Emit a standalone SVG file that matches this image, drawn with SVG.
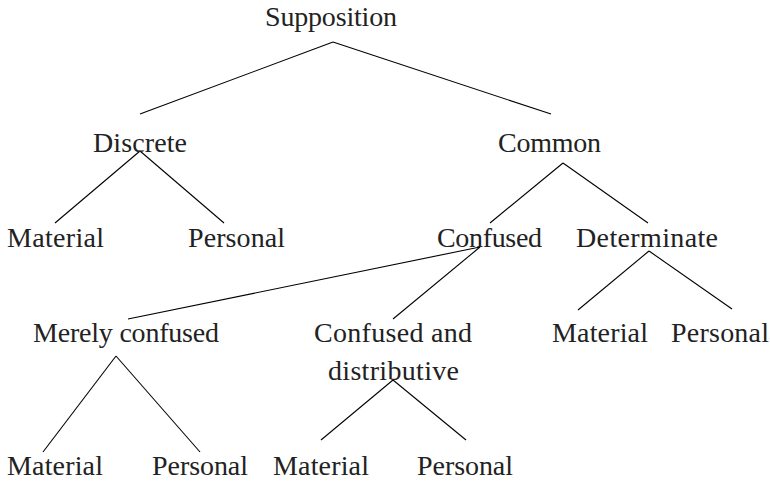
<svg xmlns="http://www.w3.org/2000/svg" width="770" height="482" viewBox="0 0 770 482">
<style>
text { font-family: "Liberation Serif", "Times New Roman", serif; font-size: 28px; fill: #222; }
.e line { stroke: #000; stroke-width: 1.1; }
</style>
<rect width="770" height="482" fill="#fff"/>
<g class="e" id="connectors">
<line x1="333" y1="42" x2="140" y2="114"/>
<line x1="333" y1="42" x2="551" y2="114"/>
<line x1="140" y1="151" x2="55" y2="223"/>
<line x1="140" y1="151" x2="224" y2="223"/>
<line x1="563" y1="163" x2="490" y2="223"/>
<line x1="563" y1="163" x2="648" y2="223"/>
<line x1="480" y1="247" x2="128" y2="319"/>
<line x1="480" y1="247" x2="393" y2="319"/>
<line x1="649" y1="251" x2="578" y2="310"/>
<line x1="649" y1="251" x2="732" y2="309"/>
<line x1="116" y1="356" x2="43" y2="452"/>
<line x1="116" y1="356" x2="200" y2="452"/>
<line x1="393" y1="380" x2="321" y2="440"/>
<line x1="393" y1="380" x2="466" y2="440"/>
</g>
<g id="n-supposition"><text x="265" y="26" textLength="132">Supposition</text></g>
<g id="n-discrete"><text x="93" y="152" textLength="94">Discrete</text></g>
<g id="n-common"><text x="498" y="152" textLength="103">Common</text></g>
<g id="n-d-material"><text x="7" y="247" textLength="97">Material</text></g>
<g id="n-d-personal"><text x="188" y="247" textLength="97">Personal</text></g>
<g id="n-confused"><text x="437" y="247" textLength="105">Confused</text></g>
<g id="n-determinate"><text x="576" y="247" textLength="142">Determinate</text></g>
<g id="n-merely"><text x="33" y="342" textLength="186">Merely confused</text></g>
<g id="n-cd"><text x="314" y="342" textLength="158">Confused and</text><text x="328" y="380" textLength="131">distributive</text></g>
<g id="n-det-material"><text x="552" y="342" textLength="96">Material</text></g>
<g id="n-det-personal"><text x="671" y="342" textLength="98">Personal</text></g>
<g id="n-m-material"><text x="7" y="475" textLength="96">Material</text></g>
<g id="n-m-personal"><text x="152" y="475" textLength="96">Personal</text></g>
<g id="n-cd-material"><text x="273" y="475" textLength="96">Material</text></g>
<g id="n-cd-personal"><text x="417" y="475" textLength="96">Personal</text></g>
</svg>
